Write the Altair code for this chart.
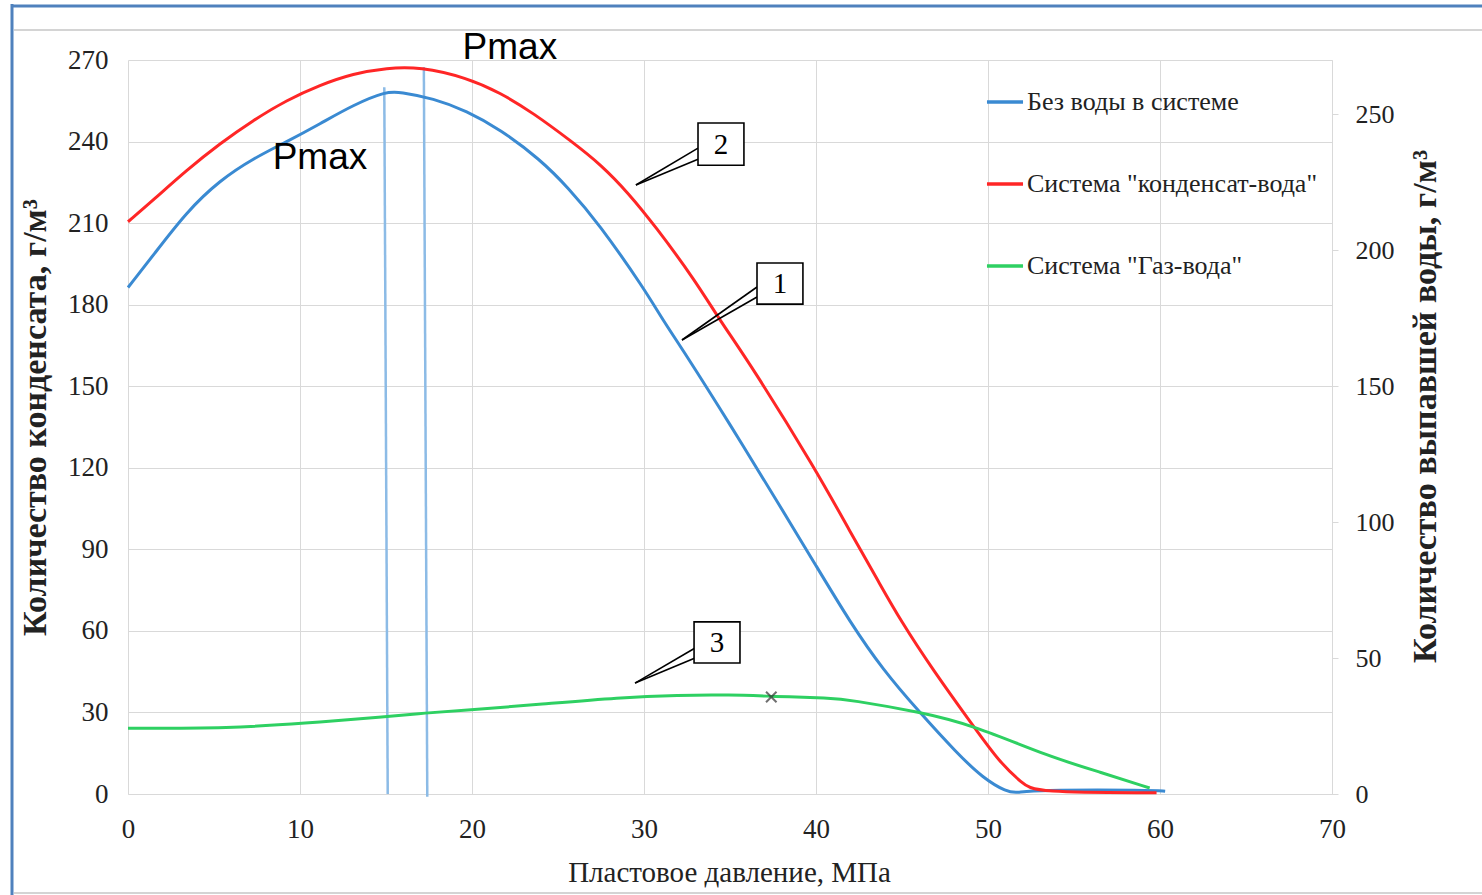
import altair as alt
import pandas as pd

SERIF = "Liberation Serif"
SANS = "Liberation Sans"

S1 = "Без воды в системе"
S2 = 'Система "конденсат-вода"'
S3 = 'Система "Газ-вода"'

# --- series (pressure, MPa  ->  g/m3) ---
P_blue = [0, 1.47, 3.41, 5.35, 7.29, 9.22, 11.16, 13.1, 15.04, 15.8, 17.75, 19.69, 21.63, 23.95, 25.6,
          27.35, 30, 31.1, 32.3, 35, 37.9, 40, 42, 43.9, 46, 48.2, 49.7, 51.1, 51.7, 52.6, 59.5, 60.3]
V_blue = [186.3, 198.2, 214.2, 225.8, 233.8, 239.9, 246.5, 253.5, 258.5, 258.2, 255.9, 251.3, 244.5, 233.5, 223,
          210, 186, 174.3, 163, 136, 106, 84, 63, 45.6, 30.2, 15, 5.9, 0.7, 0.4, 1.5, 1.5, 1.0]

P_red = [0, 1.47, 3.41, 5.35, 7.29, 9.22, 11.16, 13.1, 15.04, 16.98, 19.69, 21.63, 23.56, 25.8, 27.5,
         29.1, 30.64, 32.97, 34.4, 36.2, 40, 42, 43.7, 44.9, 46.8, 49.1, 50.7, 52, 52.7, 59.8]
V_red = [210.5, 218.5, 229.5, 239.3, 247.9, 255.2, 260.8, 265, 267.1, 267.5, 263.5, 258, 250.5, 240, 231.5,
         221, 209, 189, 174.3, 158, 119.2, 96.3, 77.4, 64, 45.6, 25.4, 11.4, 4, 0.5, 0.5]

P_green = [0, 6, 10.2, 15, 17.2, 19.9, 24, 28.6, 32, 35, 37.5, 40.8, 42, 46, 49.1, 53.6, 56.5, 59.4]
V_green = [24.2, 24.2, 26, 28.4, 29.8, 30.9, 33, 35.5, 36.4, 36.5, 35.9, 35.3, 34.6, 30.2, 25.4, 13.6, 8.1, 2.2]

# Pmax vertical lines
pmax_x_top = [14.9, 17.2]
pmax_x_bot = [15.1, 17.4]
pmax_y_top = [260, 267.4]
pmax_y_bot = [0, -1]

# Pmax labels
pmax_lab_x = [11.16, 22.2]
pmax_lab_y = [233.9, 274.4]
pmax_lab = ["Pmax", "Pmax"]

# marker on green curve
mark_x = [37.4]
mark_y = [35.7]

# numbered callouts
box_lab = ["2", "1", "3"]
box_x1 = [33.14, 36.57, 32.91]
box_x2 = [35.81, 39.24, 35.58]
box_y1 = [231.3, 180.2, 48.2]
box_y2 = [246.8, 195.3, 63.3]
box_cx = [34.48, 37.9, 34.24]
box_cy = [238.7, 187.6, 55.5]
tip_x = [29.53, 32.21, 29.48]
tip_y = [224.0, 167.0, 40.8]
edge_x = [33.14, 36.57, 32.97]
edge_y_a = [237.6, 186.5, 53.7]
edge_y_b = [233.5, 182.8, 50.0]

x_ticks = list(range(0, 71, 10))
yl_ticks = list(range(0, 271, 30))
yr_ticks = list(range(0, 251, 50))

# --- tables ---
df_lines = pd.concat([
    pd.DataFrame({"P": P_blue, "V": V_blue, "series": S1}),
    pd.DataFrame({"P": P_red, "V": V_red, "series": S2}),
])
df_green = pd.DataFrame({"P": P_green, "V": V_green, "series": S3})
df_vl = pd.DataFrame({"x": pmax_x_top, "x2": pmax_x_bot, "y": pmax_y_top, "y2": pmax_y_bot})
df_plab = pd.DataFrame({"x": pmax_lab_x, "y": pmax_lab_y, "t": pmax_lab})
df_mark = pd.DataFrame({"x": mark_x, "y": mark_y})
df_box = pd.DataFrame({"x": box_x1, "x2": box_x2, "y": box_y1, "y2": box_y2,
                       "cx": box_cx, "cy": box_cy, "t": box_lab})
df_wedge = pd.DataFrame({
    "x": tip_x + tip_x, "y": tip_y + tip_y,
    "x2": edge_x + edge_x, "y2": edge_y_a + edge_y_b,
})
one = pd.DataFrame({"a": [0]})

GRID = "#d9d9d9"
TXT = "#222222"

x_scale = alt.Scale(domain=[0, 70], nice=False, zero=False)
yl_scale = alt.Scale(domain=[0, 270], nice=False, zero=False)
yr_scale = alt.Scale(domain=[0, 270], nice=False, zero=False)

x_axis = alt.Axis(values=x_ticks, grid=True, gridColor=GRID, ticks=False, domainColor=GRID,
                  labelFont=SERIF, labelFontSize=27, labelColor=TXT, labelPadding=22, labelFlush=False,
                  title="Пластовое давление, МПа", titleFont=SERIF, titleFontSize=29,
                  titleFontWeight="normal", titleColor=TXT, titleX=601, titleY=78,
                  titleAlign="center", titleBaseline="middle")
yl_axis = alt.Axis(values=yl_ticks, grid=True, gridColor=GRID, ticks=False, domain=False,
                   labelFont=SERIF, labelFontSize=27, labelColor=TXT, labelPadding=20, labelFlush=False,
                   title="Количество конденсата,  г/м³", titleFont=SERIF, titleFontSize=34,
                   titleFontWeight="bold", titleColor=TXT, titleAngle=270, titleX=-93, titleY=357,
                   titleAlign="center", titleBaseline="middle")
yr_axis = alt.Axis(values=yr_ticks, orient="right", grid=False, ticks=True, tickColor=GRID, tickSize=6,
                   domainColor=GRID, labelFont=SERIF, labelFontSize=26, labelColor=TXT, labelPadding=17,
                   labelFlush=False,
                   title="Количество выпавшей воды, г/м³", titleFont=SERIF, titleFontSize=34,
                   titleFontWeight="bold", titleColor=TXT, titleAngle=270, titleX=93, titleY=346,
                   titleAlign="center", titleBaseline="middle")

color_scale = alt.Scale(domain=[S1, S2, S3], range=["#3a8ad2", "#ff2626", "#2ed062"])
legend = alt.Legend(title=None, orient="none", legendX=857, legendY=22, symbolType="stroke",
                    symbolSize=1300, symbolStrokeWidth=3.5, labelFont=SERIF, labelFontSize=26,
                    labelColor=TXT, labelLimit=600, rowPadding=49, labelOffset=2)


def X(f="x"):
    return alt.X(f"{f}:Q", scale=x_scale, axis=x_axis)


def YL(f="y"):
    return alt.Y(f"{f}:Q", scale=yl_scale, axis=yl_axis)


frame = alt.layer(
    alt.Chart(one).mark_rule(color="#4f81bd", strokeWidth=3).encode(
        x=alt.value(-116), y=alt.value(-56), y2=alt.value(835)),
    alt.Chart(one).mark_rule(color="#4f81bd", strokeWidth=3).encode(
        x=alt.value(-117), x2=alt.value(1354), y=alt.value(-54)),
    alt.Chart(one).mark_rule(color="#d4d4d4", strokeWidth=2).encode(
        x=alt.value(-114), x2=alt.value(1354), y=alt.value(-30)),
    alt.Chart(one).mark_rule(color="#d4d4d4", strokeWidth=2).encode(
        x=alt.value(-114), x2=alt.value(1354), y=alt.value(833)),
)

vlines = alt.Chart(df_vl).mark_rule(color="#8cbbe6", strokeWidth=2.5).encode(
    x=X("x"), x2="x2:Q", y=YL("y"), y2="y2:Q")

main_lines = alt.Chart(df_lines).mark_line(interpolate="basis", strokeWidth=3).encode(
    x=X("P"), y=YL("V"),
    color=alt.Color("series:N", scale=color_scale, legend=legend),
    detail="series:N")

plab = alt.Chart(df_plab).mark_text(font=SANS, fontSize=37, color="#000000").encode(
    x=X("x"), y=YL("y"), text="t:N")

wedges = alt.Chart(df_wedge).mark_rule(color="#000000", strokeWidth=1.6).encode(
    x=X("x"), x2="x2:Q", y=YL("y"), y2="y2:Q")

boxes = alt.Chart(df_box).mark_rect(fill="#ffffff", stroke="#000000", strokeWidth=1.6).encode(
    x=X("x"), x2="x2:Q", y=YL("y"), y2="y2:Q")

box_text = alt.Chart(df_box).mark_text(font=SERIF, fontSize=29, color="#000000").encode(
    x=X("cx"), y=YL("cy"), text="t:N")

left_group = alt.layer(frame, vlines, main_lines, plab, wedges, boxes, box_text)

green = alt.Chart(df_green).mark_line(interpolate="basis", strokeWidth=3).encode(
    x=X("P"), y=alt.Y("V:Q", scale=yr_scale, axis=yr_axis),
    color=alt.Color("series:N", scale=color_scale, legend=legend))

marker = alt.Chart(df_mark).mark_point(shape="M-1,-1L1,1M-1,1L1,-1", size=110, color="#333333",
                                       strokeWidth=2, filled=False).encode(
    x=X("x"), y=alt.Y("y:Q", scale=yr_scale, axis=yr_axis))

right_group = alt.layer(green, marker)

chart = alt.layer(left_group, right_group).resolve_scale(y="independent").properties(
    width=1204, height=734,
    autosize=alt.AutoSizeParams(type="none"),
    padding={"left": 128, "top": 60, "right": 150, "bottom": 101},
    background="#ffffff",
).configure_view(strokeWidth=0)

chart.save("out.html", embed_options={"renderer": "svg", "actions": False})
